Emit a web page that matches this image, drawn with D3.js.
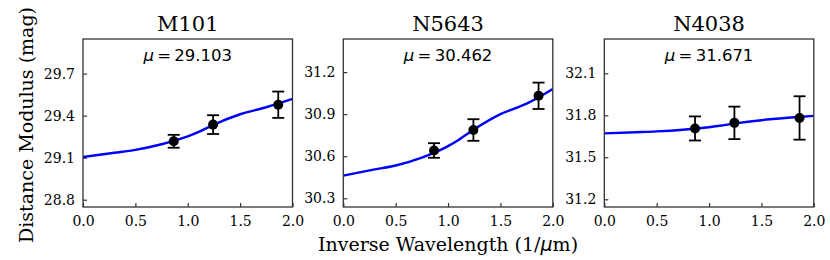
<!DOCTYPE html>
<html>
<head>
<meta charset="utf-8">
<script src="https://cdn.jsdelivr.net/npm/d3@7"></script>
<style>
  body { margin: 0; background: #fff; }
  .tick text { font-family: "DejaVu Serif", serif; font-size: 14px; fill: #000; }
</style>
</head>
<body>
<div id="chart"></div>
<script>
// data
var galaxies = ["M101", "N5643", "N4038"];
var muValues = ["29.103", "30.462", "31.671"];

var pointX = [0.866, 1.242, 1.864];
var pointsM101  = [29.217, 29.336, 29.478];
var pointsN5643 = [30.641, 30.787, 31.031];
var pointsN4038 = [31.706, 31.746, 31.781];
var errM101  = [0.046, 0.067, 0.094];
var errN5643 = [0.052, 0.077, 0.094];
var errN4038 = [0.086, 0.116, 0.155];

var curveX = [0, 0.3, 0.5, 0.75, 1.0, 1.1, 1.25, 1.5, 1.75, 2.0];
var curveM101  = [29.105, 29.135, 29.156, 29.196, 29.252, 29.282, 29.336, 29.410, 29.460, 29.519];
var curveN5643 = [30.462, 30.506, 30.534, 30.590, 30.672, 30.716, 30.792, 30.900, 30.975, 31.080];
var curveN4038 = [31.671, 31.679, 31.685, 31.697, 31.715, 31.725, 31.742, 31.765, 31.782, 31.796];

var xTicks = [0.0, 0.5, 1.0, 1.5, 2.0];
var yTicksM101  = [28.8, 29.1, 29.4, 29.7];
var yTicksN5643 = [30.3, 30.6, 30.9, 31.2];
var yTicksN4038 = [31.2, 31.5, 31.8, 32.1];

var panels = [
    {name: galaxies[0], mu: muValues[0], pts: pointsM101,  err: errM101,  curve: curveM101,  ticks: yTicksM101,  ylim: [28.748, 29.947]},
    {name: galaxies[1], mu: muValues[1], pts: pointsN5643, err: errN5643, curve: curveN5643, ticks: yTicksN5643, ylim: [30.238, 31.436]},
    {name: galaxies[2], mu: muValues[2], pts: pointsN4038, err: errN4038, curve: curveN4038, ticks: yTicksN4038, ylim: [31.145, 32.345]}
];

var W = 830, H = 260;
var panelLeft = [83, 343.3, 604.3],
    panelW = 209.5,
    plotTop = 39, plotBottom = 207;

var svg = d3.select("#chart").append("svg")
    .attr("width", W)
    .attr("height", H);

svg.append("rect").attr("width", W).attr("height", H).attr("fill", "#fff");

panels.forEach(function(p, i) {
    var g = svg.append("g")
        .attr("transform", "translate(" + panelLeft[i] + "," + plotTop + ")");
    var h = plotBottom - plotTop;

    var xScale = d3.scaleLinear().domain([0, 2]).range([0, panelW]);
    var yScale = d3.scaleLinear().domain(p.ylim).range([h, 0]);

    // x axis, ticks pointing in
    var xAxis = d3.axisBottom(xScale)
        .tickValues(xTicks)
        .tickSizeInner(-4)
        .tickSizeOuter(0)
        .tickPadding(9)
        .tickFormat(d3.format(".1f"));
    var gx = g.append("g")
        .attr("class", "x axis")
        .attr("transform", "translate(0," + h + ")")
        .call(xAxis);

    var yAxis = d3.axisLeft(yScale)
        .tickValues(p.ticks)
        .tickSizeInner(-4)
        .tickSizeOuter(0)
        .tickPadding(8)
        .tickFormat(d3.format(".1f"));
    var gy = g.append("g")
        .attr("class", "y axis")
        .call(yAxis);

    [gx, gy].forEach(function(a) {
        a.select(".domain").remove();
        a.selectAll(".tick line").attr("stroke", "#333").attr("stroke-width", 1.2);
    });

    var clipId = "clip" + i;
    g.append("clipPath").attr("id", clipId)
        .append("rect").attr("width", panelW).attr("height", h);

    // model curve
    var line = d3.line()
        .x(function(d) { return xScale(d[0]); })
        .y(function(d) { return yScale(d[1]); })
        .curve(d3.curveMonotoneX);
    g.append("path")
        .datum(curveX.map(function(x, k) { return [x, p.curve[k]]; }))
        .attr("clip-path", "url(#" + clipId + ")")
        .attr("fill", "none")
        .attr("stroke", "#0000ff")
        .attr("stroke-width", 2.4)
        .attr("d", line);

    // error bars
    var pts = pointX.map(function(x, k) { return {x: x, y: p.pts[k], e: p.err[k]}; });
    var eb = g.selectAll(".err").data(pts).enter().append("g").attr("class", "err")
        .attr("stroke", "#000").attr("stroke-width", 1.8);
    eb.append("line")
        .attr("x1", function(d) { return xScale(d.x); })
        .attr("x2", function(d) { return xScale(d.x); })
        .attr("y1", function(d) { return yScale(d.y - d.e); })
        .attr("y2", function(d) { return yScale(d.y + d.e); });
    [-1, 1].forEach(function(s) {
        eb.append("line")
            .attr("x1", function(d) { return xScale(d.x) - 6; })
            .attr("x2", function(d) { return xScale(d.x) + 6; })
            .attr("y1", function(d) { return yScale(d.y + s * d.e); })
            .attr("y2", function(d) { return yScale(d.y + s * d.e); });
    });
    g.selectAll(".pt").data(pts).enter().append("circle")
        .attr("cx", function(d) { return xScale(d.x); })
        .attr("cy", function(d) { return yScale(d.y); })
        .attr("r", 5)
        .attr("fill", "#000");

    // frame
    g.append("rect")
        .attr("width", panelW).attr("height", h)
        .attr("fill", "none").attr("stroke", "#333").attr("stroke-width", 1.3);

    // title
    g.append("text")
        .attr("x", panelW / 2).attr("y", 31 - plotTop)
        .attr("text-anchor", "middle")
        .style("font-family", "DejaVu Serif").style("font-size", "21px")
        .text(p.name);

    // mu annotation
    var t = g.append("text")
        .attr("x", panelW / 2).attr("y", 61 - plotTop)
        .attr("text-anchor", "middle")
        .style("font-family", "DejaVu Sans").style("font-size", "16.5px");
    t.append("tspan").style("font-style", "italic").text("\u03bc");
    t.append("tspan").text("\u2009=\u2009" + p.mu);
});

// axis labels
svg.append("text")
    .attr("text-anchor", "middle")
    .attr("transform", "translate(33," + 125 + ")rotate(-90)")
    .style("font-family", "DejaVu Serif").style("font-size", "19px")
    .text("Distance Modulus (mag)");

var xl = svg.append("text")
    .attr("text-anchor", "middle")
    .attr("x", 448).attr("y", 251)
    .style("font-family", "DejaVu Serif").style("font-size", "19px");
xl.append("tspan").text("Inverse Wavelength (1/");
xl.append("tspan").style("font-family", "DejaVu Sans").style("font-style", "italic").text("\u03bc");
xl.append("tspan").text("m)");
</script>
</body>
</html>
